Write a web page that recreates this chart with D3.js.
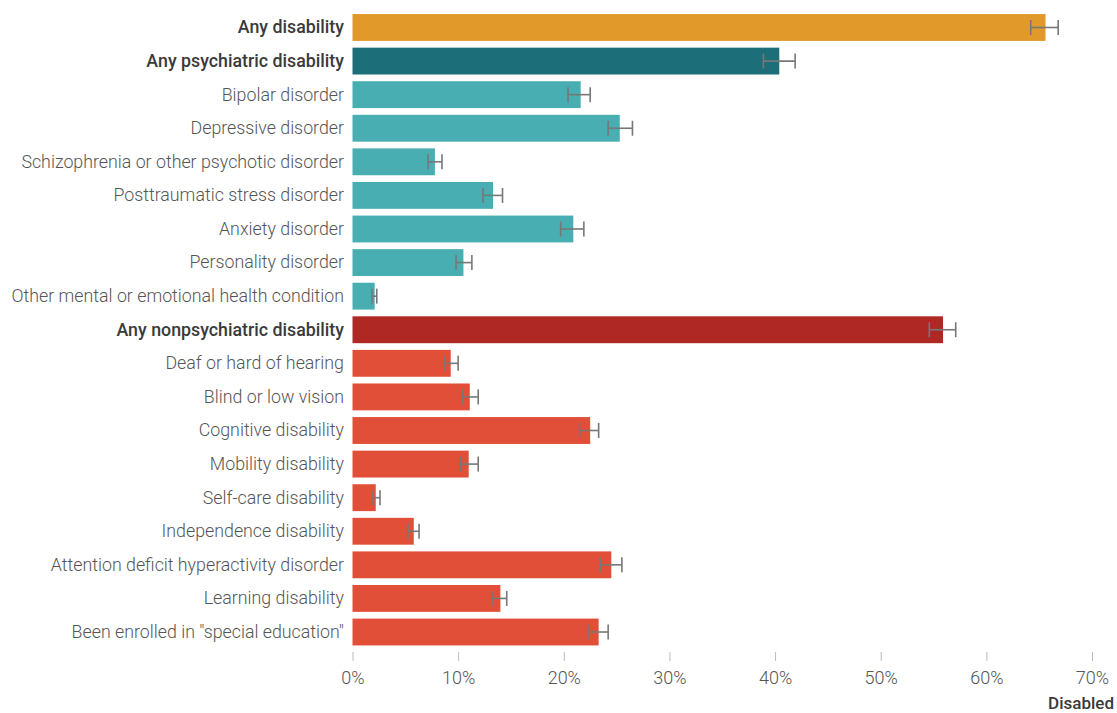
<!DOCTYPE html>
<html><head><meta charset="utf-8">
<script src="https://cdn.jsdelivr.net/npm/d3@7"></script>
<style>
body{margin:0;background:#fff;}
text{font-family:Roboto, "Noto Sans", sans-serif;}
</style></head>
<body><svg id="chart" width="1117" height="713"></svg>
<script>
const categories = [
  "Any disability","Any psychiatric disability","Bipolar disorder","Depressive disorder",
  "Schizophrenia or other psychotic disorder","Posttraumatic stress disorder","Anxiety disorder",
  "Personality disorder","Other mental or emotional health condition","Any nonpsychiatric disability",
  "Deaf or hard of hearing","Blind or low vision","Cognitive disability","Mobility disability",
  "Self-care disability","Independence disability","Attention deficit hyperactivity disorder",
  "Learning disability","Been enrolled in \"special education\""
];
const values = [65.6,40.4,21.6,25.3,7.8,13.3,20.9,10.5,2.1,55.9,9.3,11.1,22.5,11.0,2.2,5.8,24.5,14.0,23.3];
const lower  = [64.2,38.9,20.4,24.2,7.15,12.35,19.7,9.8,1.85,54.6,8.75,10.4,21.5,10.2,1.94,5.25,23.45,13.2,22.4];
const upper  = [66.8,41.9,22.5,26.5,8.47,14.2,21.9,11.3,2.3,57.1,10.0,11.9,23.3,11.9,2.6,6.3,25.5,14.6,24.2];
const groups = ["total","psychHead","psych","psych","psych","psych","psych","psych","psych","nonHead","non","non","non","non","non","non","non","non","non"];
const bold = [true,true,false,false,false,false,false,false,false,true,false,false,false,false,false,false,false,false,false];
const tickValues = [0,10,20,30,40,50,60,70];
const axisTitle = "Disabled";

const colors = {total:"#E1992A", psychHead:"#1C6E79", psych:"#48AEB1", nonHead:"#AF2824", non:"#E24F39"};

const svg = d3.select("#chart");
const x = d3.scaleLinear().domain([0,70]).range([352.5,1092]);
const y = d3.scaleBand().domain(categories).range([10.7,648.8]).paddingInner(0.2).paddingOuter(0.1);

const rows = categories.map((c,i)=>({c, v:values[i], lo:lower[i], hi:upper[i], g:groups[i], b:bold[i]}));

svg.append("g").selectAll("rect").data(rows).join("rect")
  .attr("x", x(0)).attr("y", d=>y(d.c))
  .attr("width", d=>x(d.v)-x(0)).attr("height", y.bandwidth())
  .attr("fill", d=>colors[d.g]);

const eb = svg.append("g").attr("stroke","#777").attr("stroke-width",1.6);
rows.forEach(d=>{
  const cy = y(d.c)+y.bandwidth()/2;
  eb.append("line").attr("x1",x(d.lo)).attr("x2",x(d.hi)).attr("y1",cy).attr("y2",cy);
  eb.append("line").attr("x1",x(d.lo)).attr("x2",x(d.lo)).attr("y1",cy-7.5).attr("y2",cy+7.5);
  eb.append("line").attr("x1",x(d.hi)).attr("x2",x(d.hi)).attr("y1",cy-7.5).attr("y2",cy+7.5);
});

svg.append("g").selectAll("text").data(rows).join("text")
  .attr("x", 344).attr("y", d=>y(d.c)+y.bandwidth()/2)
  .attr("dy","0.33em").attr("text-anchor","end")
  .attr("font-size", 17.8)
  .attr("font-weight", d=>d.b?500:300)
  .attr("fill", d=>d.b?"#3a3a3a":"#555")
  .text(d=>d.c);

const ax = svg.append("g").attr("transform","translate(0,652)")
  .call(d3.axisBottom(x).tickValues(tickValues).tickFormat(d=>d+"%").tickSize(9).tickPadding(10));
ax.select(".domain").remove();
ax.selectAll(".tick line").attr("stroke","#bbb");
ax.selectAll(".tick text").attr("font-size",18).attr("font-weight",300).attr("fill","#555")
  .attr("font-family","Roboto, sans-serif");

svg.append("text").attr("x",1114).attr("y",709).attr("text-anchor","end")
  .attr("font-size",17).attr("font-weight",500).attr("fill","#3a3a3a").text(axisTitle);
</script></body></html>
